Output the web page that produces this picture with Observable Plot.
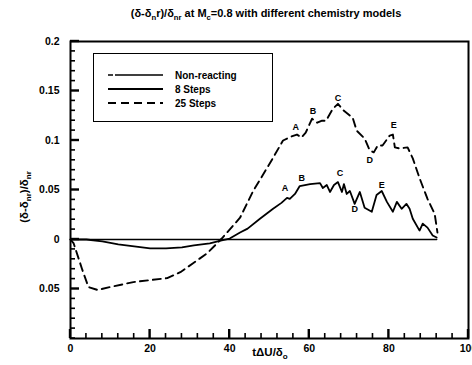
<!DOCTYPE html>
<html><head><meta charset="utf-8">
<script src="https://cdn.jsdelivr.net/npm/d3@7"></script>
<script src="https://cdn.jsdelivr.net/npm/@observablehq/plot@0.6"></script>
<style>
body{margin:0;background:#fff;}
#wrap{position:relative;width:472px;height:365px;font-family:"Liberation Sans",Arial,sans-serif;font-weight:bold;color:#000;}
#wrap svg{position:absolute;left:0;top:0;}
.t{position:absolute;white-space:nowrap;}
sub{font-size:70%;vertical-align:-0.35em;line-height:0;}
#legend{position:absolute;left:93px;top:53px;width:178px;height:67px;border:1.6px solid #000;background:#fff;}
</style></head>
<body><div id="wrap"></div>
<script>
// Data
const nrX = [0, 92];
const nrY = [0, 0];
const s8X = [0,4,8,12,16,20,24,28,31,35,38,40,42.6,44.5,47.6,50.9,53,54.4,55.1,56.4,57.6,60.2,62.7,63.4,64.4,65.2,66.2,67.2,68.2,68.7,69.4,70.2,71.4,72.7,73.9,75.7,76.9,78.2,79.5,81,82,83.2,84.4,85.2,86,87.7,88.5,89.7,91,92];
const s8Y = [0,0,-0.002,-0.005,-0.007,-0.009,-0.009,-0.008,-0.006,-0.004,-0.001,0.001,0.007,0.011,0.021,0.031,0.037,0.042,0.041,0.046,0.054,0.056,0.057,0.052,0.055,0.048,0.055,0.058,0.048,0.056,0.046,0.049,0.036,0.048,0.032,0.028,0.045,0.049,0.038,0.028,0.038,0.031,0.036,0.031,0.021,0.009,0.016,0.012,0.004,0.002];
const s25X = [0,0.8,3,4.5,6.8,10,15.8,20,24.3,27.6,30.8,34.3,36.8,38,42.6,45.9,50.1,53.4,55.5,56.9,58,59.1,60.7,62,63.2,64.2,65.9,67.2,68.7,70.9,71.9,73.9,75.2,76.2,77.2,78.4,80.2,81,81.5,82.7,84.7,86,87.7,89.7,91.5,92.2];
const s25Y = [0,-0.004,-0.031,-0.048,-0.051,-0.048,-0.043,-0.041,-0.039,-0.033,-0.024,-0.014,-0.004,0.001,0.022,0.049,0.077,0.100,0.104,0.106,0.103,0.108,0.122,0.118,0.120,0.120,0.132,0.137,0.130,0.123,0.110,0.102,0.090,0.088,0.095,0.095,0.105,0.106,0.093,0.092,0.093,0.082,0.062,0.041,0.026,0.007];
const ptLabels = ["A","B","C","D","E"];
const lab8X = [53.9,58.1,67.7,71.4,78.2];
const lab8Y = [0.052,0.062,0.067,0.031,0.055];
const lab25X = [56.6,60.9,67.2,75.2,81.2];
const lab25Y = [0.114,0.130,0.143,0.080,0.116];
const xMajor = [0,20,40,60,80,100];
const xTickLabels = ["0","20","40","60","80","100"];
const yMajor = [-0.05,0,0.05,0.1,0.15,0.2];
const yTickLabels = ["0.05","0","0.05","0.1","0.15","0.2"];
const seriesNames = ["Non-reacting","8 Steps","25 Steps"];

const xDom = [0,100], yDom = [-0.1,0.2];
const xMinor = d3.range(0,101,4).filter(v=>!xMajor.includes(v));
const yMinor = d3.range(-10,21,1).map(v=>v/100).filter(v=>!yMajor.some(m=>Math.abs(m-v)<1e-9));
const xLab = new Map(xMajor.map((v,i)=>[v,xTickLabels[i]]));
const yLab = new Map(yMajor.map((v,i)=>[v,yTickLabels[i]]));

const nr = nrX.map((x,i)=>({x,y:nrY[i]}));
const s8 = s8X.map((x,i)=>({x,y:s8Y[i]}));
const s25 = s25X.map((x,i)=>({x,y:s25Y[i]}));
const l8 = ptLabels.map((t,i)=>({t,x:lab8X[i],y:lab8Y[i]}));
const l25 = ptLabels.map((t,i)=>({t,x:lab25X[i],y:lab25Y[i]}));

const W = 472, H = 365, mL = 70, mR = 4, mT = 41, mB = 27;
const pw = W - mL - mR, ph = H - mT - mB;
const yPerPx = (yDom[1]-yDom[0])/ph, xPerPx = (xDom[1]-xDom[0])/pw;

// tick table: value, length (px), half-width (px)
const xTicks = [...xMinor.map(v=>({v,len:5,hw:0.8})), ...xMajor.map(v=>({v,len:9,hw:1.2}))];
const yTicks = [...yMinor.map(v=>({v,len:5,hw:0.8})), ...yMajor.map(v=>({v,len:9,hw:1.2}))];

const chart = Plot.plot({
  width:W, height:H,
  marginLeft:mL, marginRight:mR, marginTop:mT, marginBottom:mB,
  x:{domain:xDom, axis:null},
  y:{domain:yDom, axis:null},
  style:{fontFamily:"Liberation Sans, Arial, sans-serif", fontWeight:"bold", fontSize:"10px", overflow:"visible"},
  marks:[
    // inward ticks drawn as thin filled rectangles
    Plot.rect(xTicks, {x1:d=>d.v-d.hw*xPerPx, x2:d=>d.v+d.hw*xPerPx, y1:yDom[0], y2:d=>yDom[0]+d.len*yPerPx, fill:"#000"}),
    Plot.rect(yTicks, {y1:d=>d.v-d.hw*yPerPx, y2:d=>d.v+d.hw*yPerPx, x1:xDom[0], x2:d=>xDom[0]+d.len*xPerPx, fill:"#000"}),
    Plot.text(xMajor.map(v=>({v})), {x:"v", y:yDom[0], text:d=>xLab.get(d.v), dy:10, fontSize:10.5, fontWeight:"bold", fill:"#000"}),
    Plot.text(yMajor.map(v=>({v})), {y:"v", x:xDom[0], text:d=>yLab.get(d.v), dx:-11, textAnchor:"end", fontSize:10.5, fontWeight:"bold", fill:"#000"}),
    Plot.line(nr, {x:"x", y:"y", stroke:"#000", strokeWidth:1.5}),
    Plot.line(s8, {x:"x", y:"y", stroke:"#000", strokeWidth:1.8}),
    Plot.line(s25, {x:"x", y:"y", stroke:"#000", strokeWidth:1.9, strokeDasharray:"8,5"}),
    Plot.text(l8, {x:"x", y:"y", text:"t", fontSize:9, fontWeight:"bold", fill:"#000"}),
    Plot.text(l25, {x:"x", y:"y", text:"t", fontSize:9, fontWeight:"bold", fill:"#000"}),
    Plot.frame({stroke:"#000", strokeWidth:2})
  ]
});
const wrap = document.getElementById("wrap");
wrap.appendChild(chart);

function addText(html, style){
  const d = document.createElement("div");
  d.className = "t"; d.innerHTML = html;
  Object.assign(d.style, style);
  wrap.appendChild(d);
  return d;
}
addText("(δ-δ<sub>n</sub>r)/δ<sub>nr</sub> at M<sub>c</sub>=0.8 with different chemistry models",
  {left:"60px", width:"412px", textAlign:"center", top:"7px", fontSize:"11px"});
addText("(δ-δ<sub>nr</sub>)/δ<sub>nr</sub>",
  {left:"24px", top:"197px", fontSize:"11.5px", transform:"translate(-50%,-50%) rotate(-90deg)"});
addText("tΔU/δ<sub>o</sub>",
  {left:"270px", top:"352px", fontSize:"11.5px", transform:"translate(-50%,-50%)"});

const leg = document.createElement("div");
leg.id = "legend";
const dashes = ["5,2,200,0", null, "8,5"];
const widths = [1.4, 1.8, 1.9];
let svg = `<svg width="178" height="67" style="position:absolute;left:0;top:0">`;
seriesNames.forEach((n,i)=>{
  const y = 21 + i*14;
  svg += `<line x1="14" x2="69" y1="${y}" y2="${y}" stroke="#000" stroke-width="${widths[i]}" ${dashes[i]?`stroke-dasharray="${dashes[i]}"`:""}/>`;
  svg += `<text x="81" y="${y+3.5}" font-size="10" font-weight="bold" font-family="Liberation Sans, Arial, sans-serif">${n}</text>`;
});
svg += `</svg>`;
leg.innerHTML = svg;
wrap.appendChild(leg);
</script>
</body></html>
